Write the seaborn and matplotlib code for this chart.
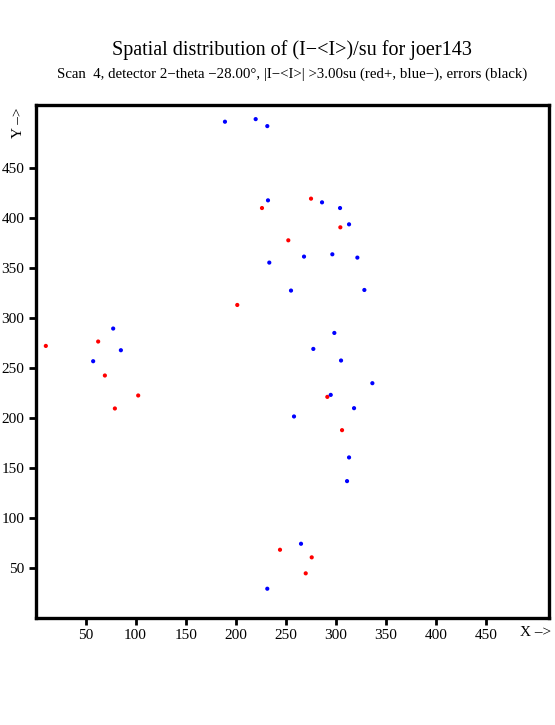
import matplotlib.pyplot as plt
import pandas as pd
import seaborn as sns

# positive deviations (red) and negative deviations (blue), detector pixel coords
RED_X = [275.3, 226.3, 304.6, 252.6, 201.6, 10.3, 62.6, 69.3, 102.6, 79.3,
         291.6, 306.3, 244.3, 276.0, 270.0]
RED_Y = [419.4, 410.0, 390.7, 377.7, 313.0, 272.0, 276.4, 242.4, 222.4, 209.4,
         221.0, 187.7, 68.0, 60.4, 44.4]
BLUE_X = [189.3, 220.0, 231.6, 232.3, 286.3, 304.3, 313.3, 268.3, 296.6, 321.6,
          233.6, 255.3, 328.6, 298.6, 277.6, 77.6, 85.3, 57.6, 305.3, 336.6,
          295.0, 318.3, 258.3, 313.3, 311.3, 265.3, 231.6]
BLUE_Y = [496.4, 499.0, 492.0, 417.7, 415.7, 410.0, 393.7, 361.4, 363.7, 360.4,
          355.4, 327.4, 328.0, 285.0, 269.0, 289.4, 267.7, 256.7, 257.4, 234.7,
          223.0, 209.7, 201.4, 160.4, 136.7, 74.0, 29.0]

TICKS = [50, 100, 150, 200, 250, 300, 350, 400, 450]

df = pd.DataFrame({
    "x": RED_X + BLUE_X,
    "y": RED_Y + BLUE_Y,
    "sign": ["+"] * len(RED_X) + ["-"] * len(BLUE_X),
})

sns.set_style("white")
plt.rcParams["font.family"] = ["Liberation Serif", "DejaVu Serif"]
plt.rcParams["text.color"] = "black"

fig = plt.figure(figsize=(5.55, 7.25), dpi=100)
ax = fig.add_axes([0.064, 0.148, 0.925, 0.707])

sns.scatterplot(
    data=df, x="x", y="y", hue="sign",
    palette={"+": "#ff0000", "-": "#0000ff"},
    s=9, linewidth=0, legend=False, ax=ax,
)

ax.set_xlim(0, 513)
ax.set_ylim(0, 513)
ax.set_xticks(TICKS)
ax.set_yticks(TICKS)
ax.tick_params(direction="out", length=5, width=2, labelsize=11, pad=3,
               left=True, bottom=True, colors="black", labelcolor="black")
ax.set_xlabel("")
ax.set_ylabel("")
for sp in ax.spines.values():
    sp.set_linewidth(2.4)
    sp.set_color("black")

ax.text(500, -8, "X \u2013>", ha="center", va="top", fontsize=11,
        color="black", clip_on=False)
ax.text(-17, 495, "Y \u2013>", ha="center", va="center", fontsize=11,
        color="black", rotation=90, clip_on=False)

# titles centred over the plot box
ax.text(0.5, 1.107, "Spatial distribution of (I\u2212<I>)/su for joer143",
        transform=ax.transAxes, ha="center", va="center", fontsize=14.5,
        color="black")
ax.text(0.5, 1.060,
        "Scan  4, detector 2\u2212theta \u221228.00\u00b0, |I\u2212<I>| >3.00su (red+, blue\u2212), errors (black)",
        transform=ax.transAxes, ha="center", va="center", fontsize=10.7,
        color="black")

fig.savefig("out.png", dpi=100)
